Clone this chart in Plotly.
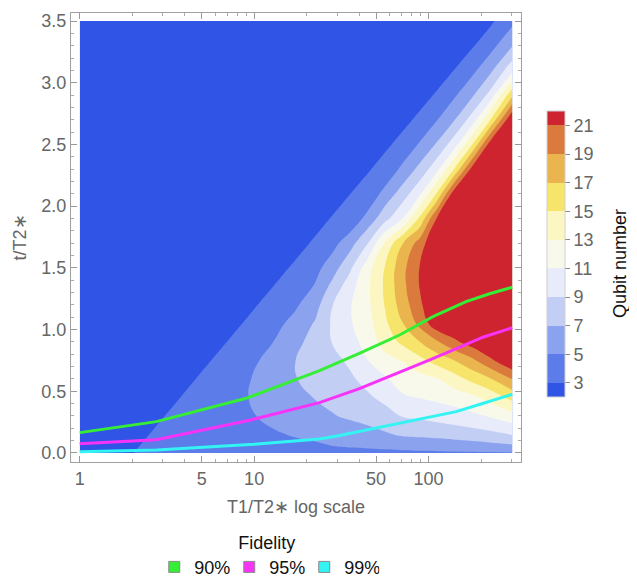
import numpy as np
import plotly.graph_objects as go

# ---- contour data: qubit number on a (T1/T2*, t/T2*) grid ----
ratio = [1, 2, 4.47, 6.31, 9.23, 12.6, 17.1, 22.4, 28.2, 35.5, 44.7, 56.2, 70.8, 89.1, 112, 141, 178, 224, 302]
time = [0, 0.05, 0.15, 0.3, 0.45, 0.6, 0.75, 0.9, 1.05, 1.2, 1.35, 1.5, 1.7, 1.9, 2.1, 2.3, 2.5, 2.7, 2.9, 3.1, 3.3, 3.5]

# one list per T1/T2* value (column), values along t/T2*
qubits_by_ratio = [
    [1.7, 1.6, 1.4, 1.2, 1.1, 1.0, 1.0, 1.0, 1.0, 1.0, 1.0, 1.0, 1.0, 1.0, 1.0, 1.0, 1.0, 1.0, 1.0, 1.0, 1.0, 1.0],
    [2.96, 2.84, 2.59, 2.21, 1.84, 1.46, 1.09, 1.0, 1.0, 1.0, 1.0, 1.0, 1.0, 1.0, 1.0, 1.0, 1.0, 1.0, 1.0, 1.0, 1.0, 1.0],
    [4.44, 4.31, 4.06, 3.69, 3.31, 2.94, 2.56, 2.19, 1.81, 1.44, 1.06, 1.0, 1.0, 1.0, 1.0, 1.0, 1.0, 1.0, 1.0, 1.0, 1.0, 1.0],
    [3.6, 3.75, 4.05, 4.45, 4.4, 3.57, 3.2, 2.82, 2.45, 2.07, 1.70, 1.32, 1.0, 1.0, 1.0, 1.0, 1.0, 1.0, 1.0, 1.0, 1.0, 1.0],
    [3.8, 3.95, 4.3, 4.75, 4.98, 4.85, 4.5, 3.52, 3.14, 2.77, 2.39, 2.02, 1.52, 1.02, 1.0, 1.0, 1.0, 1.0, 1.0, 1.0, 1.0, 1.0],
    [4.0, 4.25, 4.75, 5.45, 5.85, 6.0, 5.55, 4.91, 4.25, 3.34, 2.96, 2.59, 2.09, 1.59, 1.09, 1.0, 1.0, 1.0, 1.0, 1.0, 1.0, 1.0],
    [4.1, 4.5, 5.15, 5.85, 6.5, 6.9, 6.95, 6.4, 5.6, 4.67, 3.52, 3.145, 2.645, 2.145, 1.645, 1.145, 1.0, 1.0, 1.0, 1.0, 1.0, 1.0],
    [4.2, 4.7, 5.41, 6.28, 7.08, 7.65, 8.15, 7.8, 7.2, 6.26, 5.18, 4.35, 3.145, 2.645, 2.145, 1.645, 1.145, 1.0, 1.0, 1.0, 1.0, 1.0],
    [4.3, 4.95, 5.74, 6.9, 7.45, 7.95, 8.45, 9.1, 9.3, 8.98, 7.6, 6.1, 4.33, 3.07, 2.57, 2.07, 1.57, 1.07, 1.0, 1.0, 1.0, 1.0],
    [4.4, 5.09, 6.06, 7.26, 7.97, 8.68, 9.36, 10.4, 10.8, 10.85, 10.2, 8.6, 6.2, 3.49, 2.99, 2.49, 1.99, 1.49, 1.0, 1.0, 1.0, 1.0],
    [4.5, 5.18, 6.35, 7.65, 8.69, 9.67, 10.95, 11.6, 12.2, 12.55, 12.6, 12.2, 8.9, 5.67, 3.41, 2.91, 2.41, 1.91, 1.41, 1.0, 1.0, 1.0],
    [4.55, 5.31, 6.77, 8.22, 9.52, 10.73, 12.25, 13.9, 14.6, 15.1, 15.3, 15.1, 13.2, 8.29, 5.71, 3.335, 2.835, 2.335, 1.835, 1.335, 1.0, 1.0],
    [4.6, 5.49, 7.25, 9.11, 10.7, 11.92, 13.1, 15.4, 16.9, 17.9, 18.4, 18.4, 16.9, 10.95, 7.92, 5.51, 3.26, 2.76, 2.26, 1.76, 1.26, 1.0],
    [4.65, 5.6, 7.41, 9.38, 11.08, 12.34, 14.41, 16.98, 19.6, 20.6, 21.1, 21.1, 19.9, 15.4, 10.69, 7.57, 5.24, 3.18, 2.68, 2.18, 1.68, 1.18],
    [4.7, 5.7, 7.6, 9.71, 11.45, 12.87, 15.83, 18.78, 22.4, 23.2, 23.9, 24.0, 23.3, 21.3, 15.3, 10.46, 7.25, 4.94, 3.10, 2.60, 2.10, 1.60],
    [4.72, 5.83, 7.84, 10.1, 11.93, 14.19, 17.02, 20.6, 23.0, 25.3, 27.0, 28.0, 27.6, 26.0, 22.4, 15.2, 10.19, 6.95, 4.74, 3.025, 2.525, 2.025],
    [4.75, 5.99, 8.12, 10.58, 12.57, 15.55, 18.56, 22.0, 25.0, 28.5, 31.5, 33.5, 33.5, 31.0, 26.7, 21.8, 14.94, 9.9, 6.71, 4.51, 2.82, 2.40],
    [4.8, 6.19, 8.47, 11.17, 13.74, 16.78, 20.5, 23.5, 27.0, 31.0, 34.0, 36.5, 37.5, 36.0, 32.5, 27.5, 21.8, 14.72, 9.55, 6.45, 4.18, 2.585],
    [4.85, 6.5, 9.09, 12.26, 15.63, 19.08, 22.9, 26.5, 30.0, 33.5, 37.0, 40.0, 42.0, 42.0, 39.5, 35.0, 29.0, 23.2, 16.54, 10.43, 6.87, 4.47],
]

band_colors = ['#3054E6', '#5B7CE9', '#8BA3EE', '#C3CEF5', '#E7EBFA', '#F9F9EB',
               '#FCF7C2', '#F6E56A', '#EAB44E', '#DB7A3D', '#CE2430']
qubit_ticks = [3, 5, 7, 9, 11, 13, 15, 17, 19, 21]

# ---- fidelity curves ----
fid_names = ['90%', '95%', '99%']
fid_colors = ['#35EE35', '#F733F7', '#33F3F3']
fid90_x = [1, 2.75, 9.0, 15.8, 23.7, 39.8, 68.2, 106, 164, 224, 302]
fid90_y = [0.165, 0.254, 0.443, 0.57, 0.667, 0.806, 0.956, 1.105, 1.226, 1.29, 1.343]
fid95_x = [1, 2.75, 9.42, 23.7, 39.8, 66.1, 100, 151, 205, 302]
fid95_y = [0.075, 0.108, 0.265, 0.408, 0.52, 0.645, 0.75, 0.857, 0.938, 1.015]
fid99_x = [1, 2.75, 10, 23.7, 30.9, 66.1, 144, 200, 302]
fid99_y = [0.01, 0.024, 0.07, 0.113, 0.142, 0.237, 0.335, 0.397, 0.476]

x_ticks = [1, 5, 10, 50, 100]
x_minor = [2, 3, 4, 6, 7, 8, 9, 20, 30, 40, 60, 70, 80, 90, 200, 300]
y_ticks = [0, 0.5, 1.0, 1.5, 2.0, 2.5, 3.0, 3.5]

FONT = 'Liberation Sans, Arial, sans-serif'
GRAY = '#666666'

z = np.array(qubits_by_ratio).T
n = len(band_colors)
colorscale = [[i / (n - 1), c] for i, c in enumerate(band_colors)]

fig = go.Figure()
fig.add_trace(go.Contour(
    x=ratio, y=time, z=z,
    contours=dict(start=qubit_ticks[0], end=qubit_ticks[-1], size=2,
                  coloring='fill', showlines=False),
    line=dict(width=0, smoothing=1.3),
    colorscale=colorscale,
    hoverinfo='skip', showlegend=False,
    colorbar=dict(
        x=1.058, xanchor='left', xpad=0,
        y=0.463, yanchor='middle', ypad=0, len=286, lenmode='pixels',
        thickness=18, thicknessmode='pixels',
        outlinewidth=1, outlinecolor='#d0d0d0',
        tickvals=qubit_ticks, ticks='outside', ticklen=5,
        tickcolor='#888888',
        tickfont=dict(family=FONT, size=18, color=GRAY),
    ),
))

for name, col, xs, ys in zip(fid_names, fid_colors,
                             [fid90_x, fid95_x, fid99_x],
                             [fid90_y, fid95_y, fid99_y]):
    fig.add_trace(go.Scatter(x=xs, y=ys, mode='lines',
                             line=dict(color=col, width=3),
                             showlegend=False, hoverinfo='skip'))
    fig.add_trace(go.Scatter(x=[None], y=[None], mode='markers', name=name,
                             marker=dict(symbol='square', size=11, color=col,
                                         line=dict(color='#8a8a8a', width=1))))

fig.add_annotation(text='Qubit number', xref='paper', yref='paper',
                   x=1.22, y=0.441, xanchor='center', yanchor='middle',
                   textangle=-90, showarrow=False,
                   font=dict(family=FONT, size=18, color='#111111'))

# the page body adds an 8 px offset, so the figure is 8 px smaller than the window
fig.update_layout(
    width=629, height=572,
    margin=dict(l=63, r=116, t=5, b=118, autoexpand=False),
    paper_bgcolor='white', plot_bgcolor='white',
    font=dict(family=FONT, size=18, color=GRAY),
    xaxis=dict(type='log', range=[-0.05, 2.53],
               tickvals=x_ticks, ticktext=[str(v) for v in x_ticks],
               ticks='inside', ticklen=6, tickcolor='#999999',
               showline=True, linecolor='#a0a0a0', linewidth=1, mirror='ticks',
               showgrid=False, zeroline=False,
               tickfont=dict(size=18, color=GRAY),
               minor=dict(tickvals=x_minor, ticks='inside', ticklen=3,
                          tickcolor='#aaaaaa', showgrid=False),
               title=dict(text='T1/T2∗ log scale', standoff=12,
                          font=dict(size=18, color=GRAY))),
    yaxis=dict(range=[-0.073, 3.565],
               tickvals=y_ticks, tickformat='.1f',
               ticks='inside', ticklen=6, tickcolor='#999999',
               showline=True, linecolor='#a0a0a0', linewidth=1, mirror='ticks',
               showgrid=False, zeroline=False,
               tickfont=dict(size=18, color=GRAY),
               minor=dict(dtick=0.1, ticks='inside', ticklen=3,
                          tickcolor='#aaaaaa', showgrid=False),
               title=dict(text='t/T2∗', standoff=10,
                          font=dict(size=18, color=GRAY))),
    legend=dict(orientation='h', x=0.435, xanchor='center',
                y=-0.141, yanchor='top',
                entrywidth=30, entrywidthmode='pixels',
                font=dict(family=FONT, size=18, color='#111111'),
                title=dict(text='Fidelity', side='top center',
                           font=dict(family=FONT, size=18, color='#111111')),
                bgcolor='rgba(0,0,0,0)'),
)

fig.write_html('out.html')
